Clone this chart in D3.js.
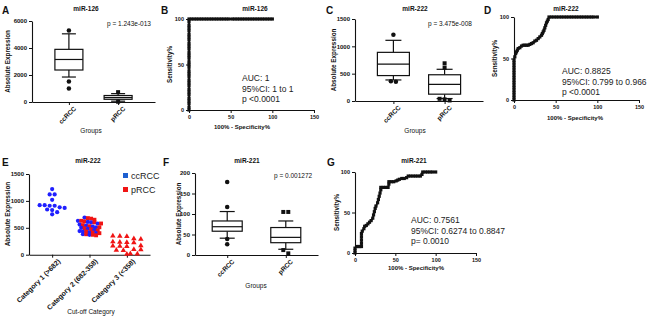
<!DOCTYPE html>
<html>
<head>
<meta charset="utf-8">
<script src="https://cdn.jsdelivr.net/npm/d3@7"></script>
<style>
body { margin: 0; background: #fff; }
svg { display: block; font-family: 'Liberation Sans', Arial, sans-serif; }
</style>
</head>
<body>
<svg id="fig" width="650" height="321"></svg>
<script>
const groups = ['ccRCC', 'pRCC']

// box stats per group: [low whisker, Q1, median, Q3, high whisker]
const mir126Box = [[1850, 2370, 3150, 3900, 5050], [60, 200, 330, 480, 620]]
const mir126Out = [[5300, 1520, 1000], [730, 20]]
const mir222Box = [[385, 465, 675, 890, 1110], [45, 125, 305, 480, 580]]
const mir222Out = [[1210, 350, 360], [690, 610, 30, 40, 10]]
const mir221Box = [[41, 58, 69, 83, 106], [14, 30, 43, 67, 83]]
const mir221Out = [[178, 117, 39, 26], [105, 105, 12, 4]]

// cut-off categories (panel E)
const categories = ['Category 1 (>682)', 'Category 2 (682-358)', 'Category 3 (<358)']
const cat1Cc = [1220, 1120, 1120, 1020, 920, 910, 910, 920, 880, 870, 840, 830, 790, 750]
const cat2Cc = [690, 630, 610, 600, 580, 560, 540, 520, 510, 500, 480, 460, 440, 430, 410, 400, 380, 370]
const cat2Pr = [680, 670, 650, 630, 620, 600, 580, 550, 530, 510, 490, 470, 450, 430, 410, 400, 380, 370, 360]
const cat3Pr = [350, 345, 340, 300, 290, 240, 235, 230, 225, 170, 165, 160, 155, 100, 95, 85, 80, 20, 15, 10]

// ROC curves: x = 100% - specificity, y = sensitivity
const roc126X = [0,0,0,0,0,0,0,0,0,0,0,0,0,0,0,0,0,0,0,0,0,0,0,0,0,0,0,0,0,0,0,
    3,6,9,12,15,18,21,24,27,30,33,36,39,42,45,48,52,55,58,61,64,67,70,73,76,79,82,85,88,91,94,97,100]
const roc126Y = [0,3,7,10,13,17,20,23,27,30,33,37,40,43,47,50,53,57,60,63,67,70,73,77,80,83,87,90,93,97,100,
    100,100,100,100,100,100,100,100,100,100,100,100,100,100,100,100,100,100,100,100,100,100,100,100,100,100,100,100,100,100,100,100,100]
const roc222X = [0,0,0,0,0,0,0,0,0,0,0,0,0,0,0,0,0,
    1,2,3,4,5,7,9,11,13,15,17,19,21,23,25,27,29,31,33,34,35,36,37,38,39,40,41,42,
    45,48,51,54,57,60,63,66,69,72,75,78,81,84,87,90,93,96,100]
const roc222Y = [0,3,6,9,12,15,18,21,24,27,30,33,36,39,42,45,48,
    52,56,58,60,62,63,65,66,66,66,66,67,68,69,71,72,74,76,78,80,82,84,87,90,93,95,97,100,
    100,100,100,100,100,100,100,100,100,100,100,100,100,100,100,100,100,100,100]
const roc221X = [0,0,0,2,4,6,8,8,8,8,8,9,11,12,14,16,18,20,22,23,24,25,26,28,29,30,31,32,32,
    35,38,41,42,42,45,48,51,53,55,58,61,64,66,69,72,75,78,81,83,84,87,90,93,96,100]
const roc221Y = [0,3,6,8,8,8,8,12,16,20,24,27,30,33,34,36,38,40,43,47,51,55,58,62,66,70,74,78,81,
    81,81,81,85,88,88,88,89,90,91,92,92,93,95,95,95,95,95,95,97,100,100,100,100,100,100]

const svg = d3.select('#fig')
const INK = '#111'
const fmt = d3.format('d')

function styleAxis(ax, size, weight) {
    ax.select('.domain').attr('stroke', INK).attr('stroke-width', 1.1)
    ax.selectAll('.tick line').attr('stroke', INK).attr('stroke-width', 1)
    ax.selectAll('text').attr('font-size', size).attr('font-weight', weight).attr('fill', INK)
}

function label(x, y, txt, opts = {}) {
    return svg.append('text')
        .attr('x', x).attr('y', y)
        .attr('font-size', opts.size || 6.5)
        .attr('font-weight', opts.weight || 'normal')
        .attr('text-anchor', opts.anchor || 'middle')
        .attr('fill', opts.fill || INK)
        .text(txt)
}

function vlabel(x, y, txt, size) {
    svg.append('text')
        .attr('transform', `translate(${x},${y}) rotate(-90)`)
        .attr('text-anchor', 'middle')
        .attr('font-size', size)
        .attr('font-weight', 'bold')
        .attr('fill', INK)
        .text(txt)
}

// spread points that sit on the same pixel row, GraphPad style
function swarm(pts, y, cx, step, gap = 4) {
    const s = pts.map(p => ({ ...p, py: y(p.v) })).sort((a, b) => a.py - b.py)
    const bins = []
    s.forEach(p => {
        const last = bins[bins.length - 1]
        if (last && p.py - last[0].py < gap) last.push(p)
        else bins.push([p])
    })
    bins.forEach(b => b.forEach((p, k) => { p.px = cx + (k - (b.length - 1) / 2) * step }))
    return s
}

function drawSymbol(g, p, type, color, size) {
    const sym = { circle: d3.symbolCircle, square: d3.symbolSquare, triangle: d3.symbolTriangle }[type]
    g.append('path')
        .attr('transform', `translate(${p.px},${p.py})`)
        .attr('d', d3.symbol().type(sym).size(size)())
        .attr('fill', color)
}

function boxPanel(o) {
    const x = d3.scalePoint().domain(groups).range([o.x0, o.x1]).padding(o.pad)
    const y = d3.scaleLinear().domain([0, o.max]).range([o.yb, o.yt])
    const g = svg.append('g')

    const ay = g.append('g').attr('transform', `translate(${o.x0},0)`)
        .call(d3.axisLeft(y).tickValues(o.ticks).tickFormat(fmt).tickSize(3).tickPadding(2).tickSizeOuter(0))
    styleAxis(ay, 6, 'bold')
    const ax = g.append('g').attr('transform', `translate(0,${o.yb})`)
        .call(d3.axisBottom(x).tickSize(3).tickSizeOuter(0))
    styleAxis(ax, 6.5, 'bold')
    ax.selectAll('text')
        .attr('text-anchor', 'end')
        .attr('transform', 'translate(2,2) rotate(-45)')
        .attr('dy', '0.35em').attr('y', 5)

    const bw = o.bw
    o.stats.forEach((s, i) => {
        const cx = x(groups[i])
        const b = g.append('g').attr('stroke', INK).attr('stroke-width', 1.2).attr('fill', 'none')
        b.append('line').attr('x1', cx).attr('x2', cx).attr('y1', y(s[0])).attr('y2', y(s[1]))
        b.append('line').attr('x1', cx).attr('x2', cx).attr('y1', y(s[3])).attr('y2', y(s[4]))
        b.append('line').attr('x1', cx - bw / 4).attr('x2', cx + bw / 4).attr('y1', y(s[0])).attr('y2', y(s[0]))
        b.append('line').attr('x1', cx - bw / 4).attr('x2', cx + bw / 4).attr('y1', y(s[4])).attr('y2', y(s[4]))
        b.append('rect').attr('x', cx - bw / 2).attr('y', y(s[3]))
            .attr('width', bw).attr('height', y(s[1]) - y(s[3])).attr('fill', '#fff')
        b.append('line').attr('x1', cx - bw / 2).attr('x2', cx + bw / 2).attr('y1', y(s[2])).attr('y2', y(s[2]))

        const pts = swarm(o.out[i].map(v => ({ v })), y, cx, 5)
        pts.forEach(p => drawSymbol(g, p, i === 0 ? 'circle' : 'square', INK, 16))
    })

    label(o.titleX, o.titleY, o.title, { weight: 'bold', size: 6.5 })
    label(o.letterX, o.titleY + 3, o.letter, { weight: 'bold', size: 10, anchor: 'start' })
    label(o.pX, o.pY, o.p, { size: 6.5, anchor: 'start' })
    label(o.groupsX, o.groupsY, 'Groups', { size: 6.5 })
    vlabel(o.ylabX, (o.yt + o.yb) / 2, 'Absolute Expression', 6.3)
}

function rocPanel(o) {
    const x = d3.scaleLinear().domain([0, 150]).range([o.x0, o.x1])
    const y = d3.scaleLinear().domain([0, 100]).range([o.yb, o.yt])
    const g = svg.append('g')

    const ay = g.append('g').attr('transform', `translate(${o.x0},0)`)
        .call(d3.axisLeft(y).tickValues([0, 50, 100]).tickSize(3).tickPadding(2).tickSizeOuter(0))
    styleAxis(ay, 5.5, 'bold')
    const ax = g.append('g').attr('transform', `translate(0,${o.yb})`)
        .call(d3.axisBottom(x).tickValues([0, 50, 100, 150]).tickSize(3).tickPadding(2).tickSizeOuter(0))
    styleAxis(ax, 5.5, 'bold')

    const pts = o.xs.map((v, i) => [x(v), y(o.ys[i])])
    g.append('path')
        .attr('d', d3.line()(pts))
        .attr('fill', 'none').attr('stroke', INK).attr('stroke-width', 1.8)
    g.selectAll('.rocpt').data(pts).enter()
        .append('rect')
        .attr('class', 'rocpt')
        .attr('x', d => d[0] - 1.6).attr('y', d => d[1] - 1.6)
        .attr('width', 3.2).attr('height', 3.2)
        .attr('fill', INK)

    label(o.titleX, o.titleY, o.title, { weight: 'bold', size: 6.5 })
    label(o.letterX, o.titleY + 3, o.letter, { weight: 'bold', size: 10, anchor: 'start' })
    label(o.xlabX, o.xlabY, '100% - Specificity%', { weight: 'bold', size: 6 })
    vlabel(o.ylabX, (o.yt + o.yb) / 2, 'Sensitivity%', 6.3)
    o.stat.forEach((t, i) => label(o.statX, o.statY + i * 10.5, t, { size: 8.5, anchor: 'start', fill: '#222' }))
}

// A
boxPanel({ x0: 32, x1: 155, yt: 21, yb: 102, pad: 0.75, bw: 28, max: 6000, ticks: [0, 2000, 4000, 6000],
    stats: mir126Box, out: mir126Out, title: 'miR-126', titleX: 86, titleY: 11, letter: 'A', letterX: 2,
    p: 'p = 1.243e-013', pX: 107, pY: 26, groupsX: 91, groupsY: 133, ylabX: 10 })
// C
boxPanel({ x0: 355, x1: 483, yt: 19, yb: 101, pad: 0.75, bw: 32, max: 1500, ticks: [0, 500, 1000, 1500],
    stats: mir222Box, out: mir222Out, title: 'miR-222', titleX: 415, titleY: 11, letter: 'C', letterX: 326,
    p: 'p = 3.475e-008', pX: 428, pY: 26, groupsX: 415, groupsY: 133, ylabX: 336 })
// F
boxPanel({ x0: 195, x1: 318, yt: 173, yb: 255, pad: 0.55, bw: 30, max: 200, ticks: [0, 50, 100, 150, 200],
    stats: mir221Box, out: mir221Out, title: 'miR-221', titleX: 247, titleY: 163, letter: 'F', letterX: 163,
    p: 'p = 0.001272', pX: 274, pY: 178, groupsX: 256, groupsY: 288, ylabX: 181 })

// B
rocPanel({ x0: 189, x1: 314, yt: 19, yb: 110, xs: roc126X, ys: roc126Y, title: 'miR-126', titleX: 255, titleY: 11,
    letter: 'B', letterX: 161, xlabX: 242, xlabY: 129, ylabX: 172,
    stat: ['AUC: 1', '95%CI: 1 to 1', 'p <0.0001'], statX: 242, statY: 81 })
// D
rocPanel({ x0: 514, x1: 639, yt: 17, yb: 100, xs: roc222X, ys: roc222Y, title: 'miR-222', titleX: 566, titleY: 11,
    letter: 'D', letterX: 484, xlabX: 575, xlabY: 120, ylabX: 497,
    stat: ['AUC: 0.8825', '95%CI: 0.799 to 0.966', 'p <0.0001'], statX: 562, statY: 74 })
// G
rocPanel({ x0: 355, x1: 476, yt: 172, yb: 253, xs: roc221X, ys: roc221Y, title: 'miR-221', titleX: 414, titleY: 163,
    letter: 'G', letterX: 327, xlabX: 416, xlabY: 270, ylabX: 339,
    stat: ['AUC: 0.7561', '95%CI: 0.6274 to 0.8847', 'p= 0.0010'], statX: 411, statY: 223 })

// E: scatter by cut-off category
{
    const BLUE = '#1f1fff', RED = '#f01414'
    const x = d3.scalePoint().domain(categories).range([29, 150]).padding(0.62)
    const y = d3.scaleLinear().domain([0, 1500]).range([254.7, 174])
    const g = svg.append('g')

    const ay = g.append('g').attr('transform', 'translate(29,0)')
        .call(d3.axisLeft(y).tickValues([0, 500, 1000, 1500]).tickFormat(fmt).tickSize(3).tickPadding(2).tickSizeOuter(0))
    styleAxis(ay, 6, 'bold')
    const ax = g.append('g').attr('transform', 'translate(0,254.7)')
        .call(d3.axisBottom(x).tickSize(3).tickSizeOuter(0))
    styleAxis(ax, 7, 'bold')
    ax.selectAll('text')
        .attr('text-anchor', 'end')
        .attr('transform', 'translate(3,2) rotate(-45)')
        .attr('dy', '0.35em').attr('y', 5)

    const sym = {
        cc: ['circle', BLUE, 14],
        pr: ['square', RED, 15],
        tri: ['triangle', RED, 13]
    }
    // category 2 holds both groups, laid out together so both stay visible
    const sets = [
        { cat: categories[0], pts: cat1Cc.map(v => ({ v, s: 'cc' })), step: 5, gap: 4 },
        { cat: categories[1], pts: cat2Cc.map(v => ({ v, s: 'cc' })).concat(cat2Pr.map(v => ({ v, s: 'pr' }))), step: 3.3, gap: 3 },
        { cat: categories[2], pts: cat3Pr.map(v => ({ v, s: 'tri' })), step: 7, gap: 4 }
    ]
    sets.forEach(set => {
        swarm(set.pts, y, x(set.cat), set.step, set.gap)
            .forEach(p => drawSymbol(g, p, ...sym[p.s]))
    })

    // legend
    const legend = [['ccRCC', '#1d5fd0'], ['pRCC', RED]]
    legend.forEach((d, i) => {
        g.append('rect').attr('x', 123).attr('y', 173 + i * 14).attr('width', 5).attr('height', 5).attr('fill', d[1])
        label(131, 178.5 + i * 14, d[0], { size: 9, anchor: 'start', fill: '#222' })
    })

    label(88, 163, 'miR-222', { weight: 'bold', size: 6.5 })
    label(2, 166, 'E', { weight: 'bold', size: 10, anchor: 'start' })
    label(91, 314, 'Cut-off Category', { size: 6.5 })
    vlabel(10, 214, 'Absolute Expression', 6.5)
}
</script>
</body>
</html>
